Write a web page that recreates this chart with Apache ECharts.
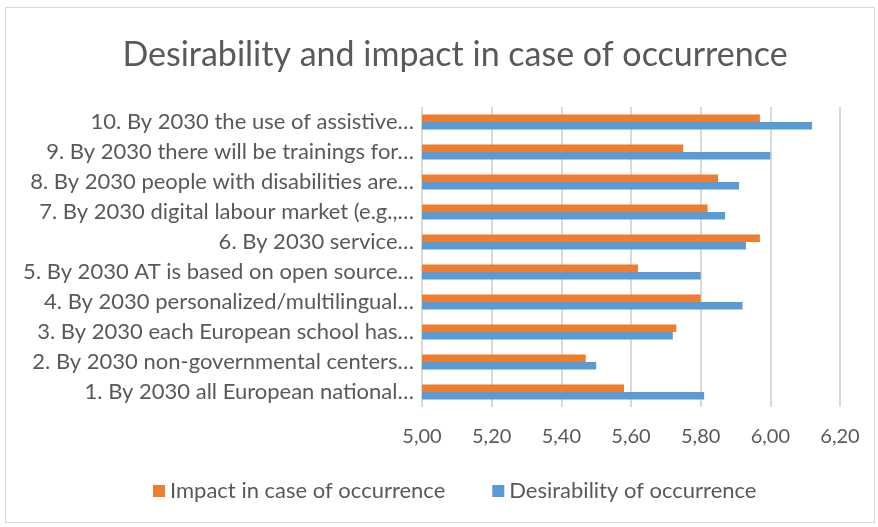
<!DOCTYPE html>
<html><head><meta charset="utf-8">
<script src="https://cdn.jsdelivr.net/npm/echarts@6/dist/echarts.min.js"></script>
<style>
html,body{margin:0;padding:0;background:#fff;}
#frame{position:absolute;left:5px;top:7px;width:870px;height:516px;border:1px solid #d9d9d9;box-sizing:border-box;}
#c{position:absolute;left:0;top:0;width:878px;height:527px;}
</style></head><body>
<div id="frame"></div>
<div id="c"></div>
<script>
const categories = [
  "1. By 2030 all European national…",
  "2. By 2030 non-governmental centers…",
  "3. By 2030 each European school has…",
  "4. By 2030 personalized/multilingual…",
  "5. By 2030 AT is based on open source…",
  "6. By 2030 service…",
  "7. By 2030 digital labour market (e.g.,…",
  "8. By 2030 people with disabilities are…",
  "9. By 2030 there will be trainings for…",
  "10. By 2030 the use of assistive…"
];
const impact = [5.58, 5.47, 5.73, 5.80, 5.62, 5.97, 5.82, 5.85, 5.75, 5.97];
const desirability = [5.81, 5.50, 5.72, 5.92, 5.80, 5.93, 5.87, 5.91, 6.00, 6.12];
const seriesNames = ["Impact in case of occurrence", "Desirability of occurrence"];
const FONT = "Lato";
const chart = echarts.init(document.getElementById('c'));
chart.setOption({
  animation:false,
  textStyle:{fontFamily:FONT},
  title:{text:"Desirability and impact in case of occurrence",left:450,textAlign:'center',top:33,
    textStyle:{fontFamily:FONT,fontSize:34,fontWeight:'normal',color:'#595959'}},
  legend:{bottom:20,left:148,itemWidth:12,itemHeight:12,itemGap:47,icon:'rect',
    textStyle:{fontFamily:FONT,fontSize:22,color:'#595959'},data:seriesNames},
  grid:{left:422,right:38,top:107,bottom:120,containLabel:false},
  xAxis:{type:'value',min:5,max:6.2,interval:0.2,
    axisLine:{show:false},axisTick:{show:false},
    splitLine:{lineStyle:{color:'#d9d9d9',width:2}},
    axisLabel:{fontFamily:FONT,fontSize:20,color:'#595959',margin:20,
      formatter:v=>v.toFixed(2).replace('.',',')}},
  yAxis:{type:'category',data:categories,
    axisLine:{show:false},axisTick:{show:false},
    axisLabel:{fontFamily:FONT,fontSize:22,color:'#595959',margin:8}},
  series:[
    {name:seriesNames[0],type:'bar',data:impact,itemStyle:{color:'#ED7D31'},barGap:'0%',barCategoryGap:'50%'},
    {name:seriesNames[1],type:'bar',data:desirability,itemStyle:{color:'#5B9BD5'},barGap:'0%',barCategoryGap:'50%'}
  ]
});
</script></body></html>
